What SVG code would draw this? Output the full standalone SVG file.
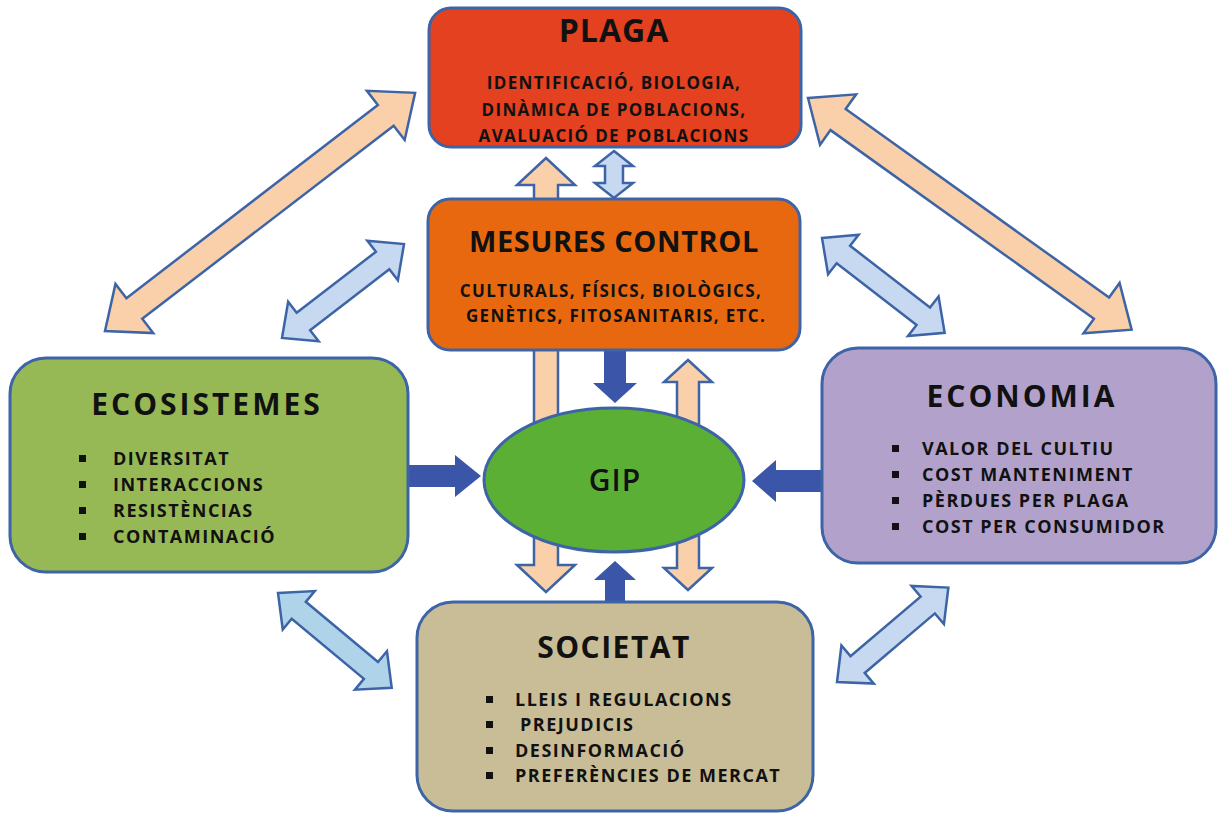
<svg xmlns="http://www.w3.org/2000/svg" width="1219" height="815" viewBox="0 0 1219 815">
<style>
.box{stroke:#3D64A6;stroke-width:3}
.arr{stroke:#3D64A6;stroke-width:2.5;stroke-linejoin:miter}
.peach{fill:#FAD0AA}
.lblue{fill:#C6D9F0}
.cblue{fill:#AFD3E9}
.dark{fill:#3B56A8}
text{font-family:"Open Sans","Liberation Sans",sans-serif;font-weight:bold;fill:#111}
.title{font-size:30px;letter-spacing:3px;text-anchor:middle}
.mes{font-size:29px;letter-spacing:0.6px;text-anchor:middle}
.plaga{font-size:32px;letter-spacing:1px;text-anchor:middle}
.sub{font-size:17px;letter-spacing:1.35px;text-anchor:middle}
.item{font-size:18px;letter-spacing:1.5px}
.bul{fill:#111}
</style>
<rect width="1219" height="815" fill="#FFFFFF"/>
<g id="connectors">
  <polygon class="arr peach" transform="translate(105,331) rotate(-37.52)" points="0,0 37,-31 37,-13 354,-13 354,-31 391,0 354,31 354,13 37,13 37,31"/>
  <polygon class="arr peach" transform="translate(808,98) rotate(35.6)" points="0,0 37,-31 37,-13 361,-13 361,-31 398,0 361,31 361,13 37,13 37,31"/>
  <polygon class="arr lblue" transform="translate(282,338) rotate(-37.6)" points="0,0 27,-25 27,-11 127,-11 127,-25 154,0 127,25 127,11 27,11 27,25"/>
  <polygon class="arr lblue" transform="translate(822,238) rotate(37.7)" points="0,0 27,-25 27,-11 128,-11 128,-25 155,0 128,25 128,11 27,11 27,25"/>
  <polygon class="arr cblue" transform="translate(278,593) rotate(39.8)" points="0,0 27,-25 27,-11 121,-11 121,-25 148,0 121,25 121,11 27,11 27,25"/>
  <polygon class="arr lblue" transform="translate(837,682) rotate(-40.3)" points="0,0 27,-25 27,-11 119,-11 119,-25 146,0 119,25 119,11 27,11 27,25"/>
  <polygon class="arr lblue" points="614,151 633,166 623,166 623,183 633,183 614,198 595,183 605,183 605,166 595,166"/>
  <polygon class="arr peach" points="546,158 575,185 558,185 558,565 575,565 546,592 517,565 534,565 534,185 517,185"/>
  <polygon class="arr peach" points="688,360 712,382 699,382 699,568 712,568 688,590 664,568 677,568 677,382 664,382"/>
  <polygon class="dark" points="604,350 626,350 626,383 637,383 615,403 593,383 604,383"/>
  <polygon class="dark" points="605,603 625,603 625,580 636,580 615,561 594,580 605,580"/>
  <polygon class="dark" points="408,465 455,465 455,455 481,476 455,497 455,487 408,487"/>
  <polygon class="dark" points="822,470 776,470 776,460 752,481 776,502 776,492 822,492"/>
</g>
<g id="plaga">
  <rect class="box" x="429" y="8" width="372" height="139" rx="22" fill="#E3411F"/>
  <text class="plaga" x="614" y="42">PLAGA</text>
  <text class="sub" x="614" y="89">IDENTIFICACIÓ, BIOLOGIA,</text>
  <text class="sub" x="614" y="116">DINÀMICA DE POBLACIONS,</text>
  <text class="sub" x="614" y="142">AVALUACIÓ DE POBLACIONS</text>
</g>
<g id="mesures">
  <rect class="box" x="428" y="199" width="372" height="151" rx="22" fill="#E8680F"/>
  <text class="mes" x="614" y="252">MESURES CONTROL</text>
  <text class="sub" x="611" y="297">CULTURALS, FÍSICS, BIOLÒGICS,</text>
  <text class="sub" x="616" y="322">GENÈTICS, FITOSANITARIS, ETC.</text>
</g>
<g id="gip">
  <ellipse class="box" cx="614" cy="480" rx="130" ry="72" fill="#5CAF35"/>
  <text class="title" x="615" y="491" style="font-weight:600;letter-spacing:1px">GIP</text>
</g>
<g id="ecosistemes">
  <rect class="box" x="10" y="358" width="398" height="214" rx="36" fill="#97B955"/>
  <text class="title" x="207" y="415">ECOSISTEMES</text>
  <rect class="bul" x="79" y="455" width="7" height="7"/>
  <rect class="bul" x="79" y="481" width="7" height="7"/>
  <rect class="bul" x="79" y="507" width="7" height="7"/>
  <rect class="bul" x="79" y="533" width="7" height="7"/>
  <text class="item" x="113" y="465">DIVERSITAT</text>
  <text class="item" x="113" y="491">INTERACCIONS</text>
  <text class="item" x="113" y="517">RESISTÈNCIAS</text>
  <text class="item" x="113" y="543">CONTAMINACIÓ</text>
</g>
<g id="economia">
  <rect class="box" x="822" y="348" width="394" height="215" rx="36" fill="#B2A2CB"/>
  <text class="title" x="1022" y="407">ECONOMIA</text>
  <rect class="bul" x="892" y="445" width="7" height="7"/>
  <rect class="bul" x="892" y="471" width="7" height="7"/>
  <rect class="bul" x="892" y="497" width="7" height="7"/>
  <rect class="bul" x="892" y="523" width="7" height="7"/>
  <text class="item" x="922" y="455">VALOR DEL CULTIU</text>
  <text class="item" x="922" y="481">COST MANTENIMENT</text>
  <text class="item" x="922" y="507">PÈRDUES PER PLAGA</text>
  <text class="item" x="922" y="533">COST PER CONSUMIDOR</text>
</g>
<g id="societat">
  <rect class="box" x="417" y="602" width="396" height="209" rx="36" fill="#C9BD98"/>
  <text class="title" x="614" y="658" style="letter-spacing:1.5px">SOCIETAT</text>
  <rect class="bul" x="486" y="696" width="7" height="7"/>
  <rect class="bul" x="486" y="721" width="7" height="7"/>
  <rect class="bul" x="486" y="747" width="7" height="7"/>
  <rect class="bul" x="486" y="772" width="7" height="7"/>
  <text class="item" x="515" y="706">LLEIS I REGULACIONS</text>
  <text class="item" x="520" y="731">PREJUDICIS</text>
  <text class="item" x="515" y="757">DESINFORMACIÓ</text>
  <text class="item" x="515" y="782">PREFERÈNCIES DE MERCAT</text>
</g>
</svg>
